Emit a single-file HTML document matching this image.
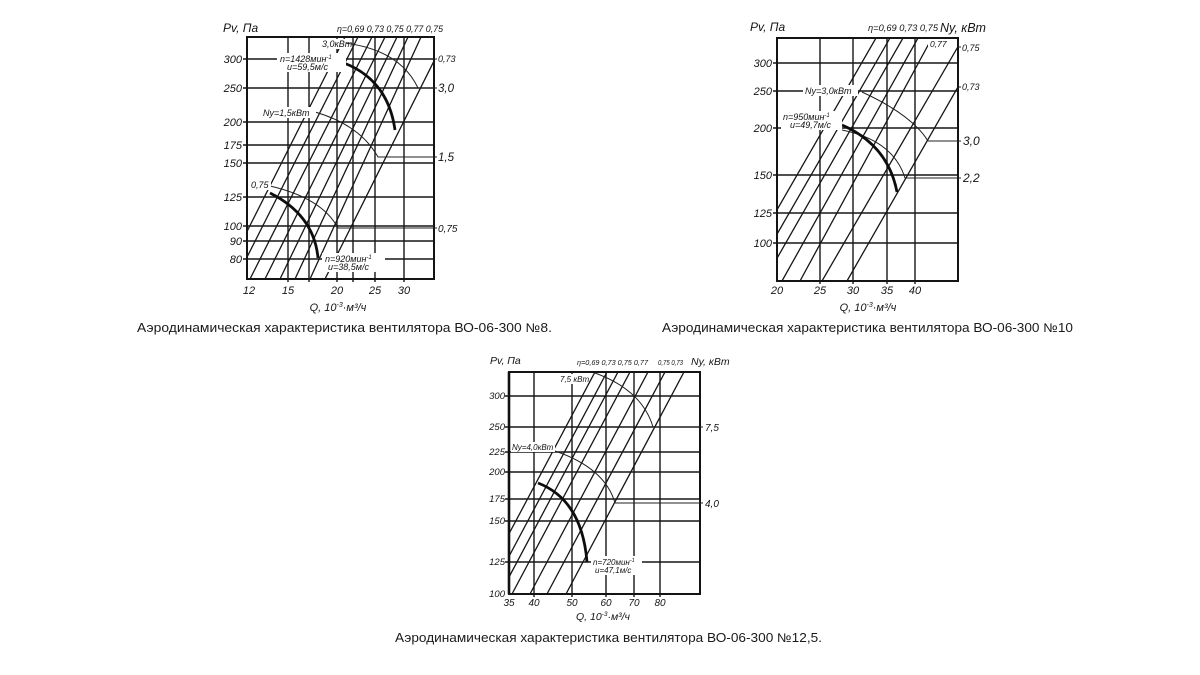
<!DOCTYPE html>
<html><head><meta charset="utf-8">
<style>
html,body{margin:0;padding:0;background:#fff;}
svg{display:block;}
.t{font-family:"Liberation Sans","DejaVu Sans",sans-serif;font-style:italic;fill:#141414;}
.c{font-family:"Liberation Sans","DejaVu Sans",sans-serif;fill:#1a1a1a;font-size:12.5px;}
.g{stroke:#161616;stroke-width:1.4;fill:none;}
.d{stroke:#161616;stroke-width:1.3;fill:none;}
.a{stroke:#222;stroke-width:1.0;fill:none;}
.k{stroke:#0d0d0d;stroke-width:2.8;fill:none;}
.b{stroke:#141414;stroke-width:2.0;fill:none;}
</style></head><body>
<svg width="1200" height="675" viewBox="0 0 1200 675" xmlns="http://www.w3.org/2000/svg">
<defs>
<clipPath id="c1"><rect x="247" y="37" width="187" height="242"/></clipPath>
<clipPath id="c2"><rect x="777" y="38" width="181" height="243"/></clipPath>
<clipPath id="c3"><rect x="509" y="372" width="191" height="222"/></clipPath>
</defs>
<rect width="1200" height="675" fill="#fff"/>

<!-- ================= CHART 1 ================= -->
<g class="g">
<path d="M243 59H434M243 88H434M243 122H434M243 145H434M243 163H434M243 197H434M243 226H434M243 241H434M243 259H434"/>
<path d="M288 37V282M309 37V282M337 37V282M353 37V282M375 37V282M404 37V282"/>
</g>
<g class="d" clip-path="url(#c1)">
<path d="M223 279L345 37M236 279L358 37M250 279L372 37M265 279L385 37M280 279L397 37M295 279L408 37M310 279L421 37M325 279L446 37"/>
</g>
<rect class="b" x="247" y="37" width="187" height="242"/>
<!-- arcs -->
<path class="a" d="M345 43Q400 50 418 88H437"/>
<path class="a" d="M315 112Q360 125 378 157H437"/>
<path class="a" d="M270 186Q322 198 338 228H437"/>
<path class="k" d="M344 63Q388 80 395 130"/>
<path class="k" d="M270 193Q314 215 318 258"/>
<path class="a" d="M434 59H437"/>
<!-- white label backgrounds -->
<rect x="320" y="39" width="26" height="10" fill="#fff"/>
<rect x="277" y="53" width="69" height="19" fill="#fff"/>
<rect x="261" y="107" width="55" height="11" fill="#fff"/>
<rect x="250" y="180" width="21" height="10" fill="#fff"/>
<rect x="322" y="253" width="63" height="19" fill="#fff"/>
<g class="t">
<text x="223" y="32" font-size="12">Pv, Па</text>
<text x="337" y="32" font-size="9" textLength="106" lengthAdjust="spacingAndGlyphs">η=0,69 0,73 0,75 0,77 0,75</text>
<text x="322" y="47" font-size="9">3,0кВт</text>
<text x="280" y="62" font-size="9">n=1428мин<tspan font-size="6" dy="-3">-1</tspan></text>
<text x="287" y="70" font-size="9">u=59,5м/с</text>
<text x="263" y="116" font-size="9">Ny=1,5кВт</text>
<text x="251" y="188" font-size="9">0,75</text>
<text x="325" y="262" font-size="9">n=920мин<tspan font-size="6" dy="-3">-1</tspan></text>
<text x="328" y="270" font-size="9">u=38,5м/с</text>
<g font-size="11" text-anchor="end">
<text x="242" y="63">300</text><text x="242" y="92">250</text><text x="242" y="126">200</text>
<text x="242" y="149">175</text><text x="242" y="167">150</text><text x="242" y="201">125</text>
<text x="242" y="230">100</text><text x="242" y="245">90</text><text x="242" y="263">80</text>
</g>
<text x="438" y="62" font-size="9">0,73</text>
<text x="438" y="92" font-size="11.5">3,0</text>
<text x="438" y="161" font-size="11.5">1,5</text>
<text x="438" y="232" font-size="10">0,75</text>
<g font-size="11" text-anchor="middle">
<text x="249" y="294">12</text><text x="288" y="294">15</text><text x="337" y="294">20</text>
<text x="375" y="294">25</text><text x="404" y="294">30</text>
</g>
<text x="338" y="311" font-size="11" text-anchor="middle">Q, 10<tspan font-size="7" dy="-4">-3</tspan><tspan dy="4">·м³/ч</tspan></text>
</g>

<!-- ================= CHART 2 ================= -->
<g class="g">
<path d="M773 63H958M773 91H958M773 128H958M773 175H958M773 213H958M773 243H958"/>
<path d="M820 38V284M853 38V284M887 38V284M915 38V284"/>
</g>
<g class="d" clip-path="url(#c2)">
<path d="M736 281L876 38M750 281L890 38M764 281L903 38M782 281L918 38M800 281L932 38M822 281L963 38M847 281L986 38"/>
</g>
<rect class="b" x="777" y="38" width="181" height="243"/>
<path class="a" d="M862 92Q912 115 928 141H961"/>
<path class="a" d="M842 130Q893 140 905 178H961"/>
<path class="k" d="M842 125Q888 145 897 192"/>
<path class="a" d="M958 47H961M958 87H961"/>
<rect x="803" y="85" width="55" height="11" fill="#fff"/>
<rect x="781" y="111" width="61" height="19" fill="#fff"/>
<rect x="928" y="39" width="19" height="10" fill="#fff"/>
<g class="t">
<text x="750" y="31" font-size="12">Pv, Па</text>
<text x="868" y="31" font-size="9" textLength="70" lengthAdjust="spacingAndGlyphs">η=0,69 0,73 0,75</text>
<text x="940" y="32" font-size="12.5">Ny, кВт</text>
<text x="930" y="47" font-size="8.5">0,77</text>
<text x="805" y="94" font-size="9">Ny=3,0кВт</text>
<text x="783" y="120" font-size="9">n=950мин<tspan font-size="6" dy="-3">-1</tspan></text>
<text x="790" y="128" font-size="9">u=49,7м/с</text>
<g font-size="11" text-anchor="end">
<text x="772" y="67">300</text><text x="772" y="95">250</text><text x="772" y="132">200</text>
<text x="772" y="179">150</text><text x="772" y="217">125</text><text x="772" y="247">100</text>
</g>
<text x="962" y="51" font-size="9">0,75</text>
<text x="962" y="90" font-size="9">0,73</text>
<text x="963" y="145" font-size="12">3,0</text>
<text x="963" y="182" font-size="12">2,2</text>
<g font-size="11" text-anchor="middle">
<text x="777" y="294">20</text><text x="820" y="294">25</text><text x="853" y="294">30</text>
<text x="887" y="294">35</text><text x="915" y="294">40</text>
</g>
<text x="868" y="311" font-size="11" text-anchor="middle">Q, 10<tspan font-size="7" dy="-4">-3</tspan><tspan dy="4">·м³/ч</tspan></text>
</g>

<!-- ================= CHART 3 ================= -->
<g class="g">
<path d="M505 396H700M505 427H700M505 452H700M505 472H700M505 499H700M505 521H700M505 562H700"/>
<path d="M534 372V597M572 372V597M606 372V597M634 372V597M660 372V597"/>
</g>
<g class="d" clip-path="url(#c3)">
<path d="M477 594L595 372M489 594L607 372M500 594L618 372M512 594L630 372M530 594L648 372M547 594L665 372M566 594L684 372"/>
</g>
<rect class="b" x="509" y="372" width="191" height="222"/>
<path d="M509 372V594" stroke="#111" stroke-width="2.6"/>
<path class="a" d="M595 373Q642 390 653 427H703"/>
<path class="a" d="M555 451Q605 468 615 503H703"/>
<path class="k" d="M538 483Q582 500 587 562"/>
<rect x="558" y="374" width="27" height="10" fill="#fff"/>
<rect x="511" y="442" width="44" height="10" fill="#fff"/>
<rect x="591" y="556" width="51" height="19" fill="#fff"/>
<g class="t">
<text x="490" y="364" font-size="10.5">Pv, Па</text>
<text x="577" y="365" font-size="7.5" textLength="71" lengthAdjust="spacingAndGlyphs">η=0,69 0,73 0,75 0,77</text>
<text x="658" y="365" font-size="7.5" textLength="25" lengthAdjust="spacingAndGlyphs">0,75 0,73</text>
<text x="691" y="365" font-size="10.5">Ny, кВт</text>
<text x="560" y="382" font-size="8">7,5 кВт</text>
<text x="512" y="450" font-size="8">Ny=4,0кВт</text>
<text x="593" y="565" font-size="8">n=720мин<tspan font-size="5.5" dy="-3">-1</tspan></text>
<text x="595" y="573" font-size="8">u=47,1м/с</text>
<g font-size="9.5" text-anchor="end">
<text x="505" y="399">300</text><text x="505" y="430">250</text><text x="505" y="455">225</text>
<text x="505" y="475">200</text><text x="505" y="502">175</text><text x="505" y="524">150</text>
<text x="505" y="565">125</text><text x="505" y="597">100</text>
</g>
<text x="705" y="431" font-size="10">7,5</text>
<text x="705" y="507" font-size="10">4,0</text>
<g font-size="10" text-anchor="middle">
<text x="509" y="606">35</text><text x="534" y="606">40</text><text x="572" y="606">50</text>
<text x="606" y="606">60</text><text x="634" y="606">70</text><text x="660" y="606">80</text>
</g>
<text x="603" y="620" font-size="10.5" text-anchor="middle">Q, 10<tspan font-size="6.5" dy="-4">-3</tspan><tspan dy="4">·м³/ч</tspan></text>
</g>

<!-- captions -->
<text class="c" x="137" y="332" textLength="415" lengthAdjust="spacingAndGlyphs">Аэродинамическая характеристика вентилятора ВО-06-300 №8.</text>
<text class="c" x="662" y="332" textLength="411" lengthAdjust="spacingAndGlyphs">Аэродинамическая характеристика вентилятора ВО-06-300 №10</text>
<text class="c" x="395" y="642" textLength="427" lengthAdjust="spacingAndGlyphs">Аэродинамическая характеристика вентилятора ВО-06-300 №12,5.</text>
</svg>
</body></html>
